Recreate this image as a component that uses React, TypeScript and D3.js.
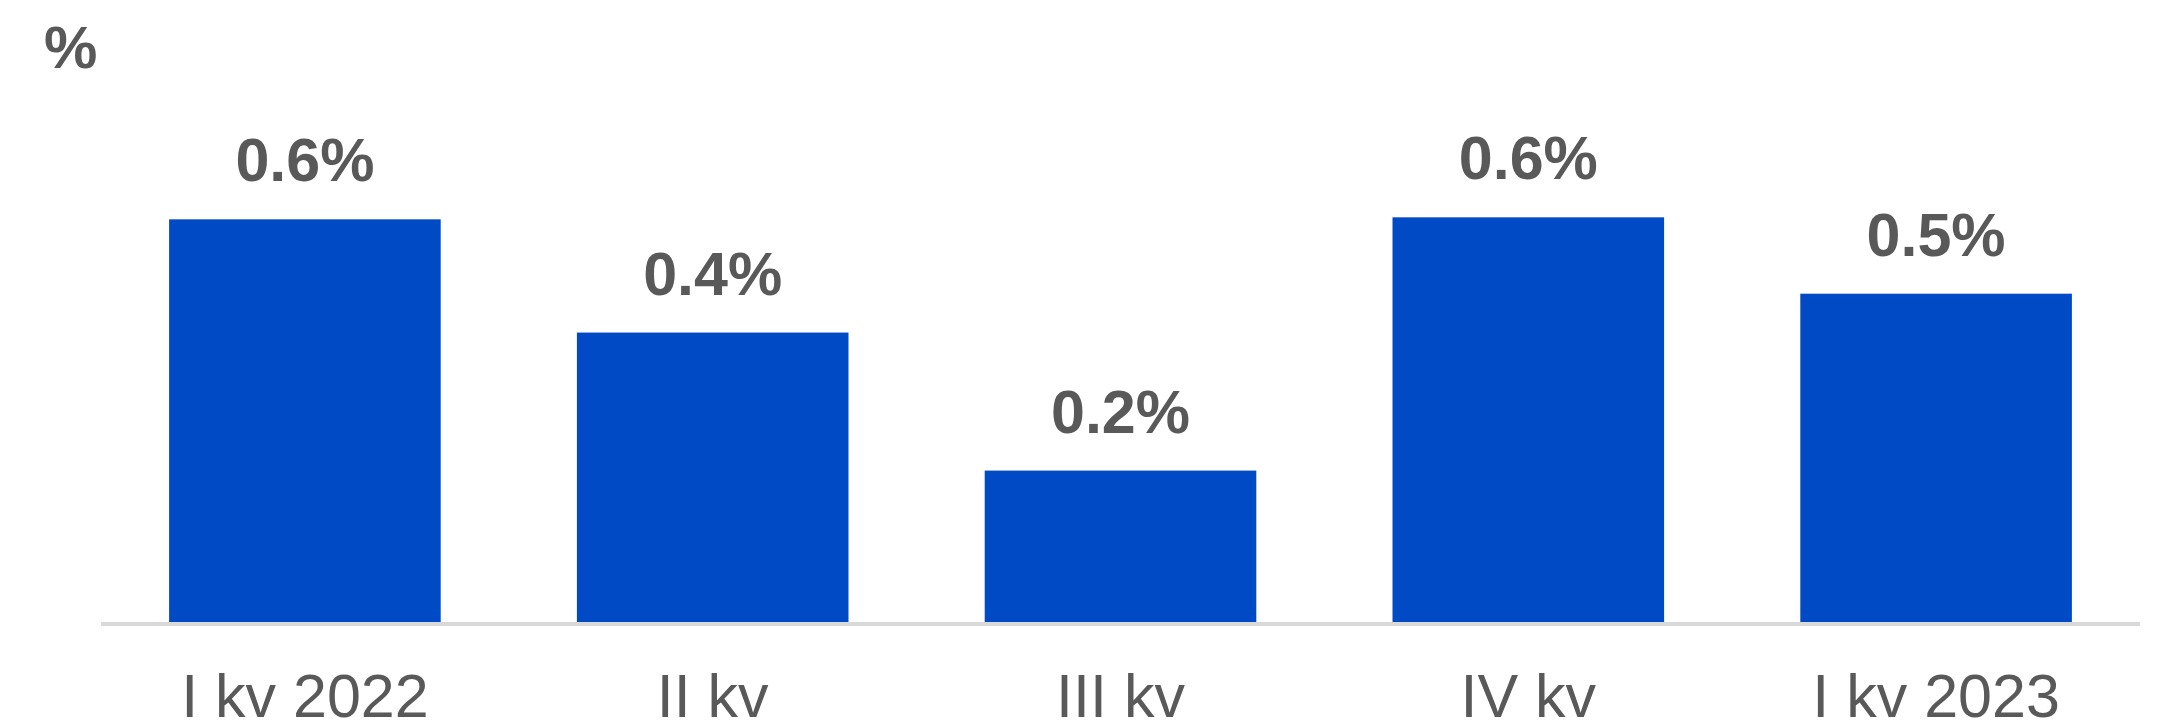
import React from "react";
import * as d3 from "d3";

const categories = ["I kv 2022", "II kv", "III kv", "IV kv", "I kv 2023"];
const values = [0.601, 0.432, 0.226, 0.604, 0.49];
const unitLabel = "%";

const W = 2157;
const H = 724;
const FONT = "'Liberation Sans', Arial, sans-serif";
const TEXT = "#595959";
const BAR = "#004BC5";

export default function App() {
  const x = d3
    .scaleBand<string>()
    .domain(categories)
    .range([101, 2140])
    .paddingInner(0.334)
    .paddingOuter(0.167);
  const baseY = 622;
  const y = d3.scaleLinear().domain([0, 0.6]).range([baseY, baseY - 402]);
  const fmt = (v: number) => d3.format(".1f")(v) + "%";

  return (
    <svg
      width={W}
      height={H}
      style={{ position: "absolute", left: 0, top: 0, background: "#fff" }}
    >
      <text
        x={44}
        y={68}
        fontFamily={FONT}
        fontWeight="bold"
        fontSize={60}
        fill={TEXT}
      >
        {unitLabel}
      </text>
      {categories.map((c, i) => (
        <g key={c}>
          <rect
            x={x(c)}
            y={y(values[i])}
            width={x.bandwidth()}
            height={baseY - y(values[i])}
            fill={BAR}
          />
          <text
            x={(x(c) as number) + x.bandwidth() / 2}
            y={y(values[i]) - 38}
            textAnchor="middle"
            fontFamily={FONT}
            fontWeight="bold"
            fontSize={61}
            fill={TEXT}
          >
            {fmt(values[i])}
          </text>
          <text
            x={(x(c) as number) + x.bandwidth() / 2}
            y={717}
            textAnchor="middle"
            fontFamily={FONT}
            fontSize={61}
            fill={TEXT}
          >
            {c}
          </text>
        </g>
      ))}
      <line
        x1={101}
        x2={2140}
        y1={624}
        y2={624}
        stroke="#D9D9D9"
        strokeWidth={4}
      />
    </svg>
  );
}
